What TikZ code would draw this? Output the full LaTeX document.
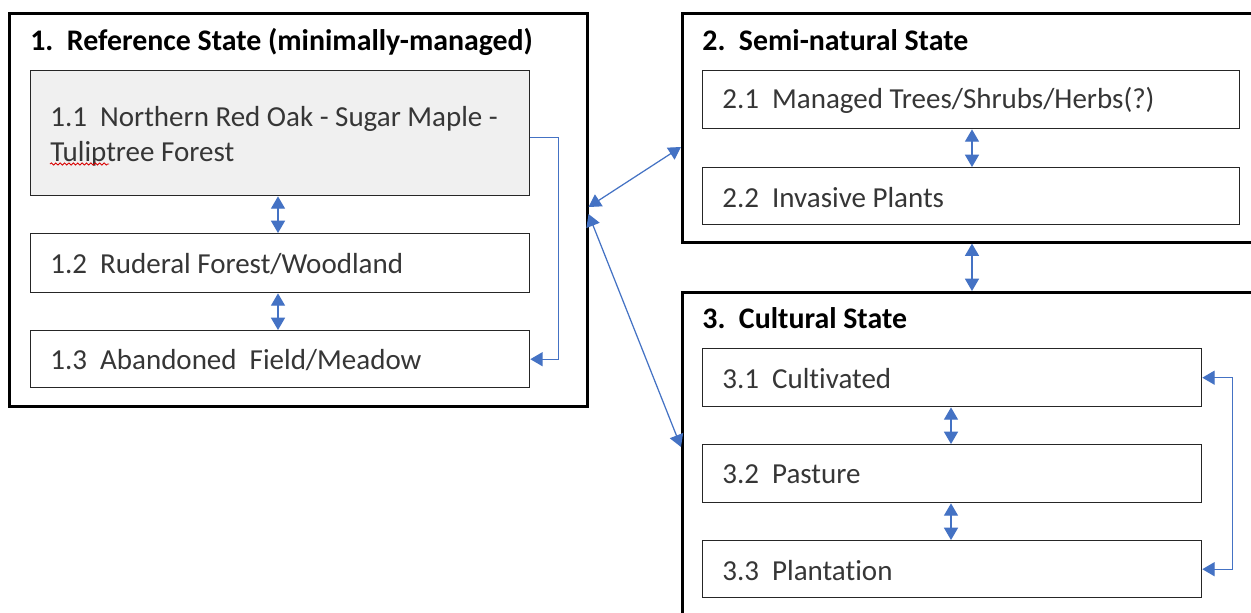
\documentclass[tikz,border=0pt]{standalone}
\usepackage{fontspec}
\setmainfont{Carlito}[Ligatures=NoCommon]
\usetikzlibrary{arrows.meta,calc,decorations.pathmorphing}
\definecolor{connblue}{HTML}{4472C4}
\definecolor{txtgray}{HTML}{363636}
\definecolor{fillgray}{HTML}{F0F0F0}
\tikzset{
  outerbox/.style={draw=black, line width=1.5pt, anchor=north west, inner sep=0pt},
  innerbox/.style={draw=black!85, line width=0.8pt, anchor=north west, inner sep=0pt},
  boxtext/.style={anchor=west, inner sep=0pt, align=left, text=txtgray, font=\fontsize{16.5}{19.5}\selectfont},
  titletext/.style={anchor=base west, inner sep=0pt, font=\fontsize{17}{20}\selectfont\bfseries},
  conn/.style={draw=connblue, line width=0.7pt},
  dbl/.style={conn, {Triangle[length=7pt,width=8pt]}-{Triangle[length=7pt,width=8pt]}},
  sgl/.style={conn, -{Triangle[length=7pt,width=8pt]}},
}
\begin{document}
\begin{tikzpicture}[x=0.02cm,y=-0.02cm]
\useasboundingbox (0,0) rectangle (1251,612);
\clip (0,0) rectangle (1251,612);
\fill[white] (0,0) rectangle (1251,612);

% outer state boxes
\node[outerbox, minimum width=11.56cm, minimum height=7.86cm] (box1) at (8,12) {};
\node[outerbox, minimum width=14cm, minimum height=4.58cm] (box2) at (681,12) {};
\node[outerbox, minimum width=14cm, minimum height=8cm] (box3) at (681,291) {};

% titles
\node[titletext] (t1) at (30,51) {1.\ \ Reference State (minimally-managed)};
\node[titletext] (t2) at (702,51) {2.\ \ Semi-natural State};
\node[titletext] (t3) at (702,328) {3.\ \ Cultural State};

% state 1 inner boxes
\node[innerbox, fill=fillgray, minimum width=9.98cm, minimum height=2.5cm] (b11) at (30,70) {};
\node[innerbox, minimum width=9.98cm, minimum height=1.18cm] (b12) at (30,233) {};
\node[innerbox, minimum width=9.98cm, minimum height=1.14cm] (b13) at (30,330) {};
\node[boxtext] (l11) at ($(b11.west)+(20,3)$) {1.1\ \ Northern Red Oak - Sugar Maple -\\Tuliptree Forest};
\node[boxtext] (l12) at ($(b12.west)+(20,1)$) {1.2\ \ Ruderal Forest/Woodland};
\node[boxtext] (l13) at ($(b13.west)+(20,1)$) {1.3\ \ Abandoned\ \ Field/Meadow};

% spell-check underline
\draw[red!85!black, line width=0.5pt, decorate, decoration={snake, amplitude=0.6pt, segment length=2.5pt}]
  (50,164) -- (109,164);

% state 2 inner boxes
\node[innerbox, minimum width=10.74cm, minimum height=1.16cm] (b21) at (702,70) {};
\node[innerbox, minimum width=10.74cm, minimum height=1.14cm] (b22) at (702,167) {};
\node[boxtext] (l21) at ($(b21.west)+(20,1)$) {2.1\ \ Managed Trees/Shrubs/Herbs(?)};
\node[boxtext] (l22) at ($(b22.west)+(20,1)$) {2.2\ \ Invasive Plants};

% state 3 inner boxes
\node[innerbox, minimum width=9.98cm, minimum height=1.16cm] (b31) at (702,348) {};
\node[innerbox, minimum width=9.98cm, minimum height=1.16cm] (b32) at (702,444) {};
\node[innerbox, minimum width=9.98cm, minimum height=1.14cm] (b33) at (702,540) {};
\node[boxtext] (l31) at ($(b31.west)+(20,1)$) {3.1\ \ Cultivated};
\node[boxtext] (l32) at ($(b32.west)+(20,1)$) {3.2\ \ Pasture};
\node[boxtext] (l33) at ($(b33.west)+(20,1)$) {3.3\ \ Plantation};

% vertical double arrows
\draw[dbl] ($(b11.south west)+(248,0)$) -- ($(b12.north west)+(248,0)$);
\draw[dbl] ($(b12.south west)+(248,0)$) -- ($(b13.north west)+(248,0)$);
\draw[dbl] ($(b21.south west)+(270,0)$) -- ($(b22.north west)+(270,0)$);
\draw[dbl] ($(box2.south west)+(291,0)$) -- ($(box3.north west)+(291,0)$);
\draw[dbl] ($(b31.south west)+(249,0)$) -- ($(b32.north west)+(249,0)$);
\draw[dbl] ($(b32.south west)+(249,0)$) -- ($(b33.north west)+(249,0)$);

% side connectors
\draw[sgl] ($(b11.east)+(0,4)$) -- ++(28,0) |- (b13.east);
\draw[dbl] (b31.east) -- ++(30,0) |- (b33.east);

% state-to-state connectors
\draw[dbl] ($(box1.north east)+(0,195)$) -- ($(box2.north west)+(0,135)$);
\draw[dbl] ($(box1.north east)+(0,202)$) -- ($(box3.north west)+(0,156)$);
\end{tikzpicture}
\end{document}
